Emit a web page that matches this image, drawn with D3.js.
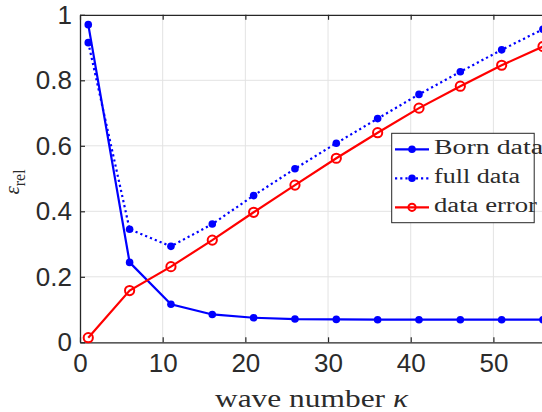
<!DOCTYPE html>
<html>
<head>
<meta charset="utf-8">
<script src="https://cdn.jsdelivr.net/npm/d3@7"></script>
<style>
  html, body { margin: 0; padding: 0; background: #fff; overflow: hidden; }
  svg { display: block; }
</style>
</head>
<body>
<svg id="chart" width="542" height="412"></svg>
<script>
// wave numbers sampled
const kappa = [1, 6, 11, 16, 21, 26, 31, 36, 41, 46, 51, 56];
// relative errors
const bornData  = [0.970, 0.244, 0.116, 0.085, 0.075, 0.071, 0.070, 0.069, 0.069, 0.069, 0.069, 0.069];
const fullData  = [0.915, 0.345, 0.293, 0.361, 0.448, 0.530, 0.608, 0.683, 0.757, 0.826, 0.893, 0.956];
const dataError = [0.014, 0.158, 0.231, 0.312, 0.397, 0.480, 0.562, 0.640, 0.715, 0.782, 0.846, 0.903];
const xTicks = [0, 10, 20, 30, 40, 50];
const yTicks = [0, 0.2, 0.4, 0.6, 0.8, 1];
const seriesNames = ["Born data", "full data", "data error"];

const svg = d3.select("#chart");
const L = 80, T = 14.8, R = 543, B = 342.3;
const x = d3.scaleLinear().domain([0, 56]).range([L, R]);
const y = d3.scaleLinear().domain([0, 1]).range([B, T]);

const axisColor = "#262626";
const gridColor = "#e3e3e3";

// grid
const grid = svg.append("g");
grid.selectAll(".gx").data(xTicks.filter(d => d > 0)).join("line")
  .attr("x1", d => x(d)).attr("x2", d => x(d)).attr("y1", T).attr("y2", B)
  .attr("stroke", gridColor).attr("stroke-width", 1);
grid.selectAll(".gy").data(yTicks.filter(d => d > 0 && d < 1)).join("line")
  .attr("x1", L).attr("x2", R).attr("y1", d => y(d)).attr("y2", d => y(d))
  .attr("stroke", gridColor).attr("stroke-width", 1);

// axes
const fontSans = "Liberation Sans, Arial, Helvetica, sans-serif";
const xAxis = d3.axisBottom(x).tickValues(xTicks).tickSizeInner(-5).tickSizeOuter(0).tickPadding(11);
const yAxis = d3.axisLeft(y).tickValues(yTicks).tickSizeInner(-5).tickSizeOuter(0).tickPadding(8)
  .tickFormat(d3.format("~g"));
const gx = svg.append("g").attr("transform", `translate(0,${B})`).call(xAxis);
const gy = svg.append("g").attr("transform", `translate(${L},0)`).call(yAxis);
[gx, gy].forEach(g => {
  g.select(".domain").attr("stroke", axisColor).attr("stroke-width", 1.3);
  g.selectAll(".tick line").attr("stroke", axisColor).attr("stroke-width", 1.2);
  g.selectAll(".tick text").attr("fill", "#2b2b2b").style("font-family", fontSans).style("font-size", "26px");
});
// top box edge with inward ticks
const gxTop = svg.append("g").attr("transform", `translate(0,${T})`)
  .call(d3.axisTop(x).tickValues(xTicks).tickSizeInner(-5).tickSizeOuter(0).tickFormat(""));
gxTop.select(".domain").attr("stroke", axisColor).attr("stroke-width", 1.3);
gxTop.selectAll(".tick line").attr("stroke", axisColor).attr("stroke-width", 1.2);

// series
const plot = svg.append("g");
const line = d3.line().x((d, i) => x(kappa[i])).y(d => y(d));
const blue = "#0000ff", red = "#ff0000";

plot.append("path").datum(bornData).attr("d", line)
  .attr("fill", "none").attr("stroke", blue).attr("stroke-width", 2.2);
plot.append("path").datum(fullData).attr("d", line)
  .attr("fill", "none").attr("stroke", blue).attr("stroke-width", 2.2).attr("stroke-dasharray", "2.2,3");
plot.append("path").datum(dataError).attr("d", line)
  .attr("fill", "none").attr("stroke", red).attr("stroke-width", 2.2);

plot.selectAll(".mb").data(bornData).join("circle")
  .attr("cx", (d, i) => x(kappa[i])).attr("cy", d => y(d)).attr("r", 3.8).attr("fill", blue);
plot.selectAll(".mf").data(fullData).join("circle")
  .attr("cx", (d, i) => x(kappa[i])).attr("cy", d => y(d)).attr("r", 3.8).attr("fill", blue);
plot.selectAll(".me").data(dataError).join("circle")
  .attr("cx", (d, i) => x(kappa[i])).attr("cy", d => y(d)).attr("r", 4.6)
  .attr("fill", "none").attr("stroke", red).attr("stroke-width", 2);

// axis labels
const fontSerif = "Liberation Serif, 'Times New Roman', serif";
svg.append("text").attr("x", 215).attr("y", 406.5)
  .attr("textLength", 193).attr("lengthAdjust", "spacingAndGlyphs")
  .attr("fill", "#2b2b2b").style("font-family", fontSerif).style("font-size", "25px")
  .html('wave number <tspan font-style="italic">κ</tspan>');

svg.append("text").attr("transform", "translate(19,182) rotate(-90)").attr("text-anchor", "middle")
  .attr("fill", "#2b2b2b").style("font-family", fontSerif).style("font-size", "21px")
  .html('<tspan font-style="italic">ε</tspan><tspan font-size="16px" dy="6">rel</tspan>');

// legend
const lg = svg.append("g");
lg.append("rect").attr("x", 391.7).attr("y", 133.3).attr("width", 142.5).attr("height", 89.4)
  .attr("fill", "#fff").attr("stroke", axisColor).attr("stroke-width", 1);
const rows = [149.3, 178.3, 207.3];
const textWidths = [109, 86, 103];
const styles = [
  { color: blue, dash: null, marker: "dot" },
  { color: blue, dash: "2.2,3", marker: "dot" },
  { color: red, dash: null, marker: "ring" }
];
seriesNames.forEach((name, i) => {
  const yy = rows[i], s = styles[i];
  lg.append("line").attr("x1", 395).attr("x2", 429).attr("y1", yy).attr("y2", yy)
    .attr("stroke", s.color).attr("stroke-width", 2.2).attr("stroke-dasharray", s.dash);
  if (s.marker === "dot") {
    lg.append("circle").attr("cx", 412).attr("cy", yy).attr("r", 3.8).attr("fill", s.color);
  } else {
    lg.append("circle").attr("cx", 412).attr("cy", yy).attr("r", 3.6)
      .attr("fill", "none").attr("stroke", s.color).attr("stroke-width", 2);
  }
  lg.append("text").attr("x", 434).attr("y", yy + 5)
    .attr("textLength", textWidths[i]).attr("lengthAdjust", "spacingAndGlyphs")
    .attr("fill", "#2b2b2b")
    .style("font-family", fontSerif).style("font-size", "20px").text(name);
});
</script>
</body>
</html>
